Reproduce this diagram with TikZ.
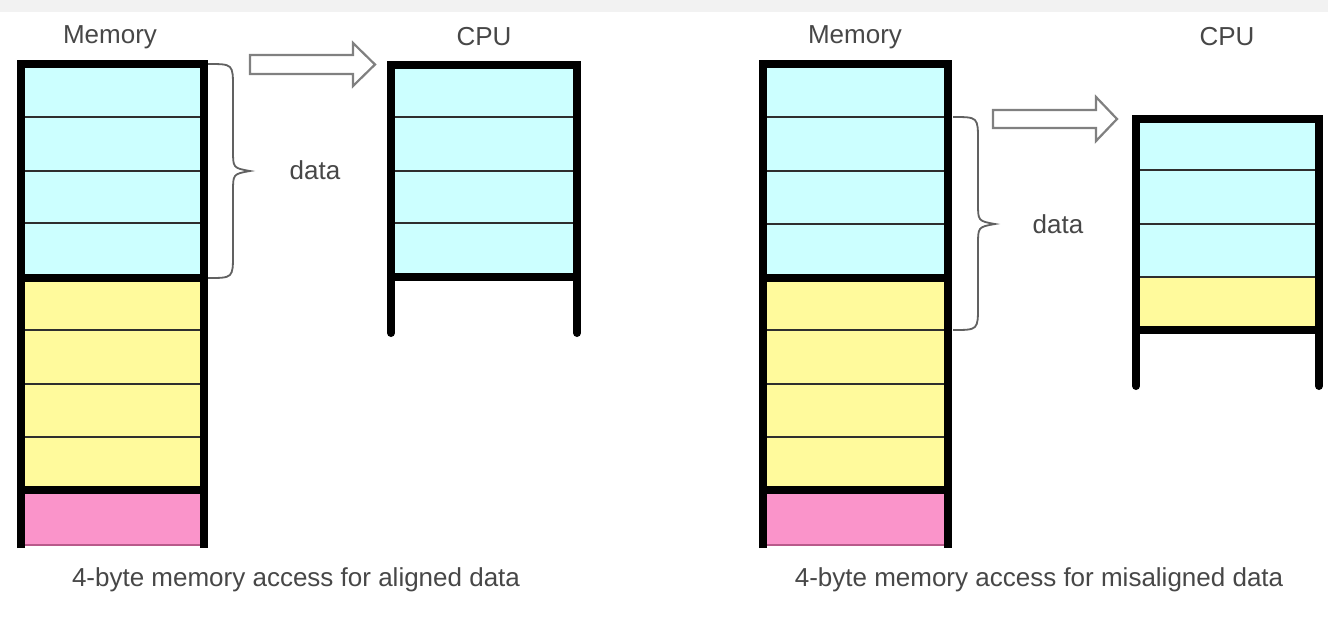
\documentclass[tikz,border=0pt]{standalone}
\usepackage{fontspec}
\setmainfont{Liberation Sans}
\definecolor{cellblue}{HTML}{CCFFFF}
\definecolor{cellyellow}{HTML}{FFFA9C}
\definecolor{cellpink}{HTML}{FA94CA}
\definecolor{pinkedge}{HTML}{B85A8A}
\begin{document}
\begin{tikzpicture}[x=1pt,y=-1pt,
  frame/.style={line width=8pt, black, line join=miter},
  cpuframe/.style={frame, line cap=round},
  rowline/.style={line width=2.6pt, black!82},
  thickrow/.style={line width=8pt, black},
  labeltext/.style={font=\fontsize{26}{30}\selectfont, text=black!72, inner sep=0pt},
  braceline/.style={line width=1.8pt, black!62},
  hollowarrow/.style={draw=black!50, line width=2.2pt, fill=white, line join=miter}]
\useasboundingbox (0,0) rectangle (1328,619);
\fill[white] (0,0) rectangle (1328,619);
\fill[black!5] (0,0) rectangle (1328,12);

% ---------- aligned access ----------
% memory column
\fill[cellblue]   (21,64)  rectangle (204,278);
\fill[cellyellow] (21,278) rectangle (204,490);
\fill[cellpink]   (21,490) rectangle (204,545);
\draw[pinkedge, line width=1.5pt] (21,545) -- (204,545);
\foreach \y in {117,171,223,330,384,437} \draw[rowline] (21,\y) -- (204,\y);
\draw[thickrow] (21,278) -- (204,278);
\draw[thickrow] (21,490) -- (204,490);
\draw[frame] (21,548) -- (21,64) -- (204,64) -- (204,548);

% CPU register
\fill[cellblue] (391,65) rectangle (577,277);
\foreach \y in {117,171,223} \draw[rowline] (391,\y) -- (577,\y);
\draw[thickrow] (391,277) -- (577,277);
\draw[cpuframe] (391,333) -- (391,65) -- (577,65) -- (577,333);

% brace over the four fetched bytes
\draw[braceline] (208,64) .. controls (233,64) .. (233,88) -- (233,150)
  .. controls (233,168) .. (250,171) .. controls (233,174) .. (233,192)
  -- (233,254) .. controls (233,278) .. (208,278);

% transfer arrow
\draw[hollowarrow] (250,55) -- (353,55) -- (353,43) -- (375,64.5) -- (353,86)
  -- (353,74) -- (250,74) -- cycle;

\node[labeltext] (memL)  at (110,37)  {Memory};
\node[labeltext] (cpuL)  at (484,37)  {CPU};
\node[labeltext] (dataL) at (315,170) {data};
\node[labeltext] (capL)  at (296,580) {4-byte memory access for aligned data};

% ---------- misaligned access ----------
% memory column
\fill[cellblue]   (763,64)  rectangle (948,278);
\fill[cellyellow] (763,278) rectangle (948,490);
\fill[cellpink]   (763,490) rectangle (948,545);
\draw[pinkedge, line width=1.5pt] (763,545) -- (948,545);
\foreach \y in {117,171,224,330,384,437} \draw[rowline] (763,\y) -- (948,\y);
\draw[thickrow] (763,278) -- (948,278);
\draw[thickrow] (763,490) -- (948,490);
\draw[frame] (763,548) -- (763,64) -- (948,64) -- (948,548);

% CPU register
\fill[cellblue]   (1136,119) rectangle (1319,277);
\fill[cellyellow] (1136,277) rectangle (1319,330);
\foreach \y in {170,224,277} \draw[rowline] (1136,\y) -- (1319,\y);
\draw[thickrow] (1136,330) -- (1319,330);
\draw[cpuframe] (1136,386) -- (1136,119) -- (1319,119) -- (1319,386);

% brace over the four fetched bytes
\draw[braceline] (953,117) .. controls (978,117) .. (978,141) -- (978,203)
  .. controls (978,221) .. (995,224) .. controls (978,227) .. (978,245)
  -- (978,306) .. controls (978,330) .. (953,330);

% transfer arrow
\draw[hollowarrow] (993,110) -- (1096,110) -- (1096,97) -- (1117,119) -- (1096,141)
  -- (1096,128) -- (993,128) -- cycle;

\node[labeltext] (memR)  at (855,37)  {Memory};
\node[labeltext] (cpuR)  at (1227,37) {CPU};
\node[labeltext] (dataR) at (1058,224) {data};
\node[labeltext] (capR)  at (1039,580) {4-byte memory access for misaligned data};
\end{tikzpicture}
\end{document}
